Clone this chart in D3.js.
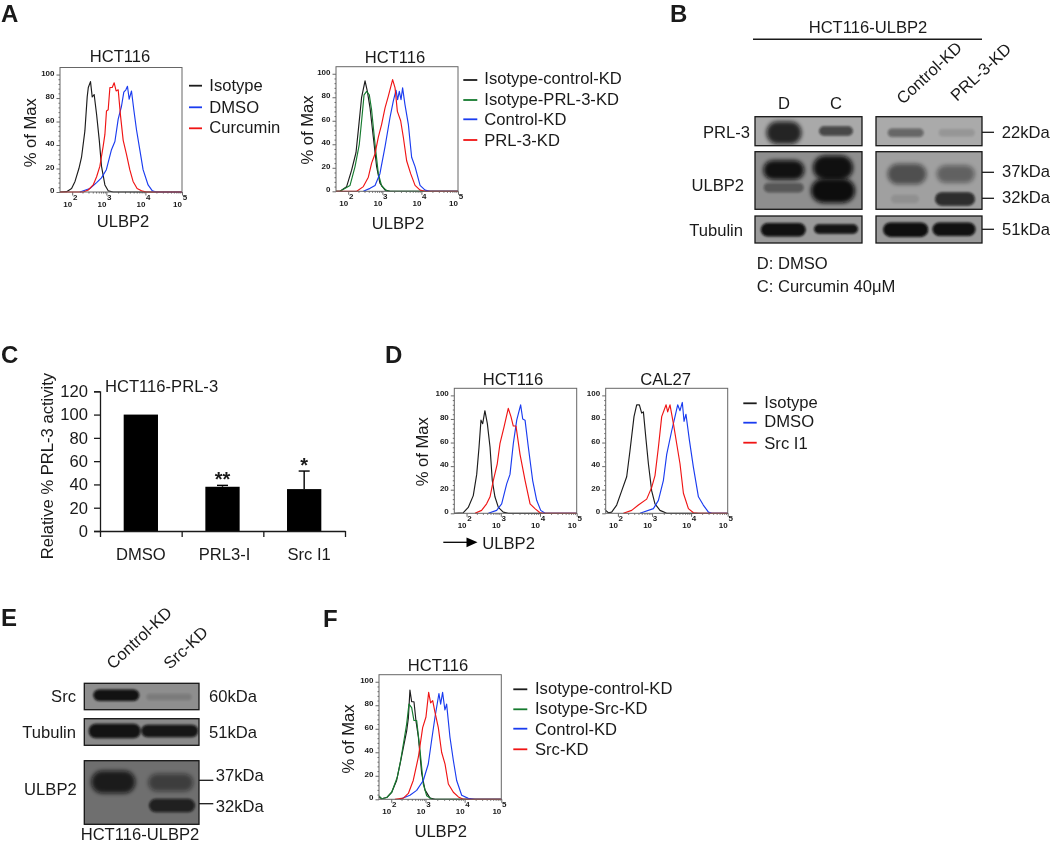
<!DOCTYPE html>
<html>
<head>
<meta charset="utf-8">
<script src="https://cdnjs.cloudflare.com/ajax/libs/d3/7.8.5/d3.min.js"></script>
<style>
html,body{margin:0;padding:0;background:#fff}
svg{display:block;filter:blur(0.35px)}
text{font-family:"Liberation Sans",Arial,sans-serif;fill:#1a1a1a}
</style>
</head>
<body>
<svg id="fig" width="1050" height="844"></svg>
<script>
// ---------- Histogram data: [channel (0-100 across the plot), % of Max] ----------
const a1Isotype=[[0,0],[5.4,.3],[9.5,3],[12.3,9],[15.5,20],[17.7,30],[20.4,52],[22.3,81],[23.2,89],[25,94],[26.4,81],[28,83],[30,66],[32.2,44],[34,22],[36.8,6],[39.5,1],[43.6,0],[100,0]];
const a1Curcumin=[[0,0],[19.1,0],[23.2,1.7],[27.2,6],[30,13],[32.7,22],[35.4,39],[36.8,49],[38.1,69],[39.5,70],[40.9,89],[42.8,89],[44.4,93],[46,86],[47.7,87],[49.6,65],[51.8,44],[54.5,32],[57.2,19],[59.9,9],[63.2,3],[66.8,1],[70.8,0],[100,0]];
const a1Dmso=[[16.3,0],[24.5,3],[30,8],[34,12],[38,19],[42.2,36],[45,43],[47.7,62],[50.4,73],[52.3,85],[54,87],[55.3,90],[56.7,79],[58.6,86],[60.5,70],[62.7,53],[65.4,36],[68.1,19],[72.2,6],[75.7,1],[79,0],[100,0]];

const a2IsoControl=[[0,0],[3.3,0],[8.7,4],[12.8,18],[16.4,33],[18.3,52],[21,80],[23.8,94],[25.7,85],[27.9,71],[30.6,46],[33.3,21],[36,7],[40.2,1],[44.3,0],[100,0]];
const a2IsoPrl=[[0,0],[3.3,0],[11.5,5],[15.6,21],[19.1,40],[21,60],[23,82],[25.1,85],[27.3,82],[29.2,69],[32,40],[34.7,15],[37.4,4.5],[41.5,.5],[44.3,0],[100,0]];
const a2Control=[[22.4,0],[27.9,2.5],[32,5],[36,15],[40.2,38],[44.3,63],[47,77],[49.2,86],[50.5,78],[51.9,85],[53.3,78],[54.6,88],[56.5,74],[59.3,57],[62,29],[64.8,21],[68.9,5],[73,1],[77,0],[100,0]];
const a2Prl=[[0,0],[17,0],[22.4,4],[26.5,12],[29.2,24],[32,32],[34.7,46],[37.4,57],[40.2,71],[42.9,81],[46.4,95],[48.4,88],[50.3,68],[53,60],[55.2,46],[57.9,26],[61.2,15],[64.8,5],[68.9,1],[72.9,0],[100,0]];

const d1Isotype=[[0,0],[7.4,.5],[11.4,5],[15.5,15],[18.3,33],[20.2,56],[21.8,79],[23.2,76],[25,87],[27,76],[29.2,56],[31,28],[33.2,14],[36,5],[40,1],[44.1,0],[100,0]];
const d1Src=[[16.9,0],[22.3,2.5],[26.4,8],[29.2,14],[31.9,28],[35.1,42],[37.3,59],[40.6,73],[44.1,89],[46.3,82],[48.2,74],[50.4,74],[53.7,50],[57.8,28],[61.9,8],[65.9,4],[70,.5],[72.8,0],[100,0]];
const d1Dmso=[[27.8,0],[34.6,2.5],[38.7,8],[42.8,25],[45.5,33],[48.2,59],[51,79],[54.2,92],[55.9,80],[57.8,79],[60.5,56],[64,28],[67.3,11],[70.6,2.5],[74.1,0],[100,0]];

const d2Isotype=[[0,2.5],[2.2,.5],[4.9,1],[9,7],[13.1,19],[17.2,31],[19.9,53],[23.2,82],[25.4,92],[27.6,92],[29.5,85],[30.9,86],[33.1,62],[35,42],[37.7,19],[40.4,8],[44.5,2.5],[50,0],[100,0]];
const d2Src=[[14.5,0],[21.3,2.5],[26.8,7],[33.6,12],[37.7,22],[40.4,32],[43.2,56],[45.9,82],[49.5,92],[50.8,86],[52.7,92],[55.5,76],[58.2,59],[60.9,42],[63.7,17],[67.8,4],[71.9,.5],[76,0],[100,0]];
const d2Dmso=[[28.1,0],[39.1,4],[43.2,11],[47.3,28],[50,50],[54.1,70],[56.8,82],[59,92],[60.9,87],[62.8,94],[64.2,78],[65.8,84],[68.6,62],[71.9,39],[76,14],[80,7],[84.2,1],[86.9,0],[100,0]];

const fIsoControl=[[0,2],[2.2,.5],[6.3,1.5],[10.4,6],[14.4,16],[17.2,30],[19.9,44],[22.6,58],[24,69],[25.3,93],[26.7,83],[28.6,83],[30.2,67],[32.2,53],[34.9,22],[37.6,8],[41.7,1],[45.8,0],[100,0]];
const fIsoSrc=[[0,3],[2.2,.5],[6.3,1.5],[10.4,6],[15,19],[17.7,33],[20.4,50],[22.6,64],[24.5,81],[26.7,78],[28.6,67],[30.8,67],[33.5,42],[36.2,13],[39,3],[43,.3],[45.8,0],[100,0]];
const fControl=[[17.2,0],[25.3,3.4],[30.8,7.6],[36.2,16],[40.3,30],[43,50],[45.8,70],[49,90],[50.4,81],[52,91],[53.9,76],[55.3,81],[58,53],[60.8,33],[63.5,16],[67.6,3.4],[73,.8],[78.5,0],[100,0]];
const fSrc=[[13,0],[19.9,1],[24,5],[28,16],[32.2,36],[35.7,61],[38.4,70],[40.6,91],[42.2,82],[43.9,84],[45.8,74],[48.5,61],[51.2,40],[54,30],[56.7,13],[60.8,6],[64.9,2],[68.9,0],[100,0]];

// ---------- Axis values ----------
const decadeValues=[100,1000,10000,100000];
const decadeExponents=["2","3","4","5"];
const decadeChannels=[10,38,70,100];
const histYTicks=[0,20,40,60,80,100];
const minorYTicks=d3.range(0,101,4);

// ---------- Bar chart data ----------
const barCategories=["DMSO","PRL3-I","Src I1"];
const barValues=[100,38,36];
const barErrors=[0,1.2,15.5];
const barStars=["","**","*"];
const barYTicks=[0,20,40,60,80,100,120];

// ---------- Blot band darkness (0 none - 1 black) ----------
const prl3Levels=[.85,.62,.42,.12];
const ulbp2UpperLevels=[.97,.97,.55,.42];
const ulbp2LowerLevels=[.42,1,.1,.78];
const tubulinLevels=[.97,.95,.98,.97];
const eSrcLevels=[.96,.14];
const eTubulinLevels=[.95,.92];
const eUlbp2Levels=[.85,.5,.8];

const BLACK="#1c1c1c",GREEN="#157a2e",BLUE="#1a3cf0",RED="#f01414";
const svg=d3.select("#fig");

// blur filters
const defs=svg.append("defs");
[["soft",1.3],["softer",2.2]].forEach(([id,s])=>{
  defs.append("filter").attr("id",id).attr("x","-30%").attr("y","-60%").attr("width","160%").attr("height","220%")
    .append("feGaussianBlur").attr("stdDeviation",s);
});

function label(t,x,y,o={}){
  const el=svg.append("text").attr("x",x).attr("y",y).text(t)
    .attr("font-size",o.size||16.6).attr("text-anchor",o.anchor||"start")
    .attr("font-weight",o.weight||"normal");
  if(o.rot!==undefined) el.attr("transform",`rotate(${o.rot} ${x} ${y})`);
  return el;
}
function rule(x1,y1,x2,y2,w=1.3,c="#1a1a1a"){
  svg.append("line").attr("x1",x1).attr("y1",y1).attr("x2",x2).attr("y2",y2).attr("stroke",c).attr("stroke-width",w);
}
function histogram(cfg){
  const g=svg.append("g");
  const x=d3.scaleLinear().domain([0,100]).range([cfg.left,cfg.right]);
  const y=d3.scaleLinear().domain([0,106]).range([cfg.bottom,cfg.top]);
  const dec=d3.scaleLog().domain(decadeValues).range(decadeChannels.map(c=>x(c)));
  const minorX=[];
  decadeValues.slice(0,3).forEach(d=>{for(let k=2;k<10;k++)minorX.push(d*k)});
  // axes
  const yAx=g.append("g").attr("transform",`translate(${cfg.left},0)`)
    .call(d3.axisLeft(y).tickValues(minorYTicks).tickFormat("").tickSize(1.5));
  yAx.selectAll(".tick line").filter(d=>d%20===0).attr("x2",-3.5);
  yAx.selectAll(".tick line").attr("stroke","#444").attr("stroke-width",.8);
  yAx.select(".domain").remove();
  const xAx=g.append("g").attr("transform",`translate(0,${cfg.bottom})`)
    .call(d3.axisBottom(dec).tickValues(decadeValues.concat(minorX)).tickFormat("").tickSize(1.5));
  xAx.selectAll(".tick line").filter(d=>decadeValues.includes(d)).attr("y2",3.5);
  xAx.selectAll(".tick line").attr("stroke","#444").attr("stroke-width",.8);
  xAx.select(".domain").remove();
  // curves
  const line=d3.line().x(d=>x(d[0])).y(d=>y(d[1]));
  cfg.series.forEach(s=>{
    g.append("path").datum(s.data).attr("d",line).attr("fill","none").attr("stroke",s.color).attr("stroke-width",1.15).attr("stroke-linejoin","round");
  });
  // frame
  g.append("rect").attr("x",cfg.left).attr("y",cfg.top).attr("width",cfg.right-cfg.left).attr("height",cfg.bottom-cfg.top)
    .attr("fill","none").attr("stroke","#666").attr("stroke-width",1);
  // tick labels
  histYTicks.forEach(v=>{
    g.append("text").attr("x",cfg.left-5.5).attr("y",y(v)+1).attr("text-anchor","end")
      .attr("font-size",8).attr("font-weight","bold").text(v);
  });
  decadeValues.forEach((d,i)=>{
    g.append("text").attr("x",dec(d)).attr("y",cfg.bottom+15).attr("text-anchor","end")
      .attr("font-size",8).attr("font-weight","bold").text("10");
    g.append("text").attr("x",dec(d)+.7).attr("y",cfg.bottom+8).attr("font-size",8).attr("font-weight","bold").text(decadeExponents[i]);
  });
}
function legend(entries,lx1,lx2,tx,ys,bs){
  entries.forEach((e,i)=>{
    rule(lx1,ys[i],lx2,ys[i],1.8,e[1]);
    label(e[0],tx,bs[i]);
  });
}
function blot(x,y,w,h,bg,bands){
  const g=svg.append("g");
  const clip="c"+Math.round(x)+"_"+Math.round(y);
  defs.append("clipPath").attr("id",clip).append("rect").attr("x",x).attr("y",y).attr("width",w).attr("height",h);
  g.append("rect").attr("x",x).attr("y",y).attr("width",w).attr("height",h).attr("fill",bg);
  const inner=g.append("g").attr("clip-path",`url(#${clip})`);
  bands.forEach(b=>{
    const bw=b.w+3, bh=b.h+2.5;
    inner.append("rect").attr("x",b.cx-bw/2).attr("y",b.cy-bh/2).attr("width",bw).attr("height",bh)
      .attr("rx",Math.min(bw,bh)/2).attr("fill","#080808").attr("opacity",b.level)
      .attr("filter",b.h>14?"url(#softer)":"url(#soft)");
  });
  g.append("rect").attr("x",x).attr("y",y).attr("width",w).attr("height",h).attr("fill","none").attr("stroke","#161616").attr("stroke-width",1.3);
}

// ---------- Panel letters ----------
[["A",1,22],["B",670,22],["C",1,363],["D",385,363],["E",1,626],["F",323,627]].forEach(d=>label(d[0],d[1],d[2],{size:24,weight:"bold"}));

// ---------- Panel A ----------
histogram({left:60,right:182,top:67.5,bottom:192,series:[{data:a1Isotype,color:BLACK},{data:a1Dmso,color:BLUE},{data:a1Curcumin,color:RED}]});
label("HCT116",120,61.7,{anchor:"middle"});
label("ULBP2",123,226.7,{anchor:"middle"});
label("% of Max",35.7,132.7,{anchor:"middle",rot:-90});
legend([["Isotype",BLACK],["DMSO",BLUE],["Curcumin",RED]],189,202,209.3,[85.7,107.3,128.3],[90.7,113,133.3]);

histogram({left:336,right:458,top:66.7,bottom:191.3,series:[{data:a2IsoControl,color:BLACK},{data:a2IsoPrl,color:GREEN},{data:a2Control,color:BLUE},{data:a2Prl,color:RED}]});
label("HCT116",395,63,{anchor:"middle"});
label("ULBP2",398,229,{anchor:"middle"});
label("% of Max",312.7,130,{anchor:"middle",rot:-90});
legend([["Isotype-control-KD",BLACK],["Isotype-PRL-3-KD",GREEN],["Control-KD",BLUE],["PRL-3-KD",RED]],463.3,477.3,484.3,[80,100,119.3,140],[84.3,105,125,146]);

// ---------- Panel B ----------
label("HCT116-ULBP2",868,33,{anchor:"middle"});
rule(753,39.3,982,39.3,1.4);
label("D",784,109,{anchor:"middle"});
label("C",836,109,{anchor:"middle"});
label("Control-KD",903,105,{rot:-43});
label("PRL-3-KD",957,102,{rot:-43});
blot(755,116.7,107,29,"#a9a9a9",[{cx:784,cy:132.7,w:32,h:20,level:prl3Levels[0]},{cx:836,cy:131,w:31,h:7,level:prl3Levels[1]}]);
blot(876,116.7,106,29,"#aaaaaa",[{cx:905.7,cy:132.7,w:33,h:6,level:prl3Levels[2]},{cx:956.7,cy:132.7,w:33,h:5,level:prl3Levels[3]}]);
blot(755,151.7,107,57.6,"#8e8e8e",[{cx:783.8,cy:170,w:38,h:17,level:ulbp2UpperLevels[0]},{cx:783.7,cy:187.7,w:37,h:7,level:ulbp2LowerLevels[0]},{cx:833,cy:167.7,w:37,h:22,level:ulbp2UpperLevels[1]},{cx:833,cy:190.7,w:41,h:22,level:ulbp2LowerLevels[1]}]);
blot(876,151.7,106,57.6,"#a0a0a0",[{cx:907,cy:174,w:36,h:18,level:ulbp2UpperLevels[2]},{cx:905,cy:199,w:25,h:6,level:ulbp2LowerLevels[2]},{cx:955.7,cy:174,w:35,h:15,level:ulbp2UpperLevels[3]},{cx:955,cy:199,w:37,h:11,level:ulbp2LowerLevels[3]}]);
blot(755,216,107,27,"#9a9a9a",[{cx:783.3,cy:229.7,w:42,h:11,level:tubulinLevels[0]},{cx:836,cy:229,w:41,h:7,level:tubulinLevels[1]}]);
blot(876,216,106,27,"#9a9a9a",[{cx:905.7,cy:229.7,w:42,h:12,level:tubulinLevels[2]},{cx:954,cy:229.3,w:40,h:11,level:tubulinLevels[3]}]);
label("PRL-3",750,138,{anchor:"end"});
label("ULBP2",744,190.7,{anchor:"end"});
label("Tubulin",743,235.7,{anchor:"end"});
rule(982,132.3,994,132.3); label("22kDa",1001.7,138);
rule(982,172.3,994,172.3); label("37kDa",1002,177.3);
rule(982,198.3,994,198.3); label("32kDa",1002,203.3);
rule(982,229.3,994,229.3); label("51kDa",1002,235);
label("D: DMSO",756.7,269);
label("C: Curcumin 40μM",756.7,291.7);

// ---------- Panel C ----------
{
  const g=svg.append("g");
  const x=d3.scaleBand().domain(barCategories).range([100,345]).paddingInner(.58).paddingOuter(.29);
  const edges=d3.scaleLinear().domain([0,3]).range([100,345]);
  const y=d3.scaleLinear().domain([0,120]).range([531,391.3]);
  g.selectAll("rect.bar").data(barCategories).join("rect").attr("class","bar")
    .attr("x",d=>x(d)).attr("width",x.bandwidth())
    .attr("y",(d,i)=>y(barValues[i])).attr("height",(d,i)=>y(0)-y(barValues[i])).attr("fill","#000");
  barCategories.forEach((c,i)=>{
    if(!barErrors[i])return;
    const cx=x(c)+x.bandwidth()/2, top=y(barValues[i]+barErrors[i]);
    g.append("line").attr("x1",cx).attr("x2",cx).attr("y1",y(barValues[i])).attr("y2",top).attr("stroke","#000").attr("stroke-width",1.4);
    g.append("line").attr("x1",cx-5.5).attr("x2",cx+5.5).attr("y1",top).attr("y2",top).attr("stroke","#000").attr("stroke-width",1.4);
    g.append("text").attr("x",cx).attr("y",top+0.5).attr("text-anchor","middle").attr("font-size",20).attr("font-weight","bold").attr("fill","#000").text(barStars[i]);
  });
  const yA=g.append("g").attr("transform","translate(100,0)").call(d3.axisLeft(y).tickValues(barYTicks).tickSize(6).tickPadding(6));
  yA.selectAll("text").attr("font-size",16.6).attr("font-family","Liberation Sans");
  yA.selectAll("line,path").attr("stroke","#1a1a1a").attr("stroke-width",1.3);
  const xA=g.append("g").attr("transform","translate(0,531)").call(d3.axisBottom(edges).tickValues([0,1,2,3]).tickFormat("").tickSize(6).tickSizeOuter(0));
  xA.selectAll("line,path").attr("stroke","#1a1a1a").attr("stroke-width",1.3);
  [0,2,5].forEach((dx,i)=>label(barCategories[i],x(barCategories[i])+x.bandwidth()/2+dx,560,{anchor:"middle"}));
  label("HCT116-PRL-3",105,391.7);
  label("Relative % PRL-3 activity",52.7,466,{anchor:"middle",rot:-90});
}

// ---------- Panel D ----------
histogram({left:454.3,right:576.7,top:388.3,bottom:513.3,series:[{data:d1Isotype,color:BLACK},{data:d1Dmso,color:BLUE},{data:d1Src,color:RED}]});
histogram({left:605.7,right:727.7,top:388.3,bottom:513.3,series:[{data:d2Isotype,color:BLACK},{data:d2Dmso,color:BLUE},{data:d2Src,color:RED}]});
label("HCT116",513,385,{anchor:"middle"});
label("CAL27",665.7,385,{anchor:"middle"});
label("% of Max",428.3,451.7,{anchor:"middle",rot:-90});
legend([["Isotype",BLACK],["DMSO",BLUE],["Src I1",RED]],743.3,756.7,764.3,[403.3,422.7,442.7],[408,427.3,448.7]);
rule(443.3,542.3,468,542.3,1.3,"#000");
svg.append("path").attr("d",d3.line()([[466.5,537.5],[477.5,542.3],[466.5,547.2]])+"Z").attr("fill","#000");
label("ULBP2",482.3,549);

// ---------- Panel E ----------
label("Control-KD",113,670,{rot:-43});
label("Src-KD",170,670,{rot:-43});
blot(84.3,683.3,114.7,26.4,"#8e8e8e",[{cx:116.3,cy:695.3,w:43,h:9,level:eSrcLevels[0]},{cx:169,cy:697,w:42,h:4,level:eSrcLevels[1]}]);
blot(84.3,718.7,114.7,26.6,"#8a8a8a",[{cx:114.7,cy:731,w:49,h:12,level:eTubulinLevels[0]},{cx:169.7,cy:731,w:54,h:10,level:eTubulinLevels[1]}]);
blot(84.3,760.7,114.7,63.6,"#6f6f6f",[{cx:113.3,cy:782,w:41,h:20,level:eUlbp2Levels[0]},{cx:170.8,cy:782.5,w:42,h:15,level:eUlbp2Levels[1]},{cx:172,cy:805.5,w:43,h:11,level:eUlbp2Levels[2]}]);
label("Src",76,701.7,{anchor:"end"});
label("Tubulin",76,737.7,{anchor:"end"});
label("ULBP2",76.7,795,{anchor:"end"});
label("60kDa",209,702);
label("51kDa",209,737.7);
rule(199,780.3,213.3,780.3); label("37kDa",215.7,781);
rule(199,803.7,213.3,803.7); label("32kDa",215.7,812);
label("HCT116-ULBP2",140,840,{anchor:"middle"});

// ---------- Panel F ----------
histogram({left:379,right:501.3,top:674.7,bottom:799.3,series:[{data:fIsoControl,color:BLACK},{data:fIsoSrc,color:GREEN},{data:fControl,color:BLUE},{data:fSrc,color:RED}]});
label("HCT116",438,670.7,{anchor:"middle"});
label("ULBP2",440.7,837,{anchor:"middle"});
label("% of Max",354,739,{anchor:"middle",rot:-90});
legend([["Isotype-control-KD",BLACK],["Isotype-Src-KD",GREEN],["Control-KD",BLUE],["Src-KD",RED]],513.3,527.3,535,[689.3,709.3,728.7,749.3],[694,714,734.7,755]);
</script>
</body>
</html>
